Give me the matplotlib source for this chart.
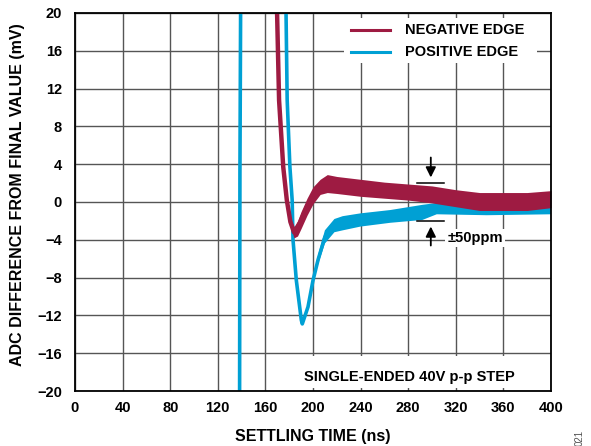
import matplotlib.pyplot as plt
import numpy as np
from matplotlib.patches import Rectangle

plt.rcParams['font.family'] = ['Liberation Sans', 'DejaVu Sans']
plt.rcParams['font.weight'] = 'bold'

# negative edge (maroon): time (ns), lower / upper edge of the noisy trace (mV)
neg_t = [168, 171.5, 175, 178, 181, 184, 187, 190, 195, 200, 206, 212, 220,
         240, 260, 280, 300, 320, 340, 360, 380, 400]
neg_lo = [30, 10.5, 3.4, -0.1, -2.6, -3.8, -3.6, -2.8, -1.4, -0.2, 0.8, 1.0, 0.9,
          0.6, 0.4, 0.2, -0.1, -0.5, -0.9, -0.9, -0.9, -0.6]
neg_hi = [30, 11.0, 4.0, 0.5, -1.6, -2.6, -2.0, -1.0, 0.4, 1.6, 2.4, 2.9, 2.7,
          2.4, 2.1, 1.9, 1.7, 1.3, 1.0, 1.0, 1.0, 1.2]

# positive edge (blue)
pos_t = [138.2, 138.6, 139.5, 176.3, 178.3, 180.6, 182.5, 183.2, 186, 190.2, 191,
         195.8, 200, 204.3, 210, 218, 225, 240, 265, 292, 304, 346, 400]
pos_lo = [-30, 3, 30, 30, 10.8, 3.7, 0.2, -4, -8.3, -12.5, -12.9,
          -11.1, -8.3, -6.6, -4.4, -3.2, -3.0, -2.6, -2.2, -1.9, -1.3, -1.4, -1.3]
pos_hi = [-30, 3, 30, 30, 10.8, 3.7, 0.2, -4, -8.3, -12.5, -12.9,
          -11.1, -8.3, -5.6, -3.0, -1.8, -1.5, -1.2, -0.85, -0.3, -0.1, -0.1, 0.0]

x_ticks = np.arange(0, 401, 40)
y_ticks = np.arange(-20, 21, 4)

RED = '#9E1B42'
BLUE = '#00A0D4'

fig = plt.figure(figsize=(5.91, 4.46), dpi=100)
ax = fig.add_axes([0.1269, 0.1233, 0.8054, 0.8476])

# blue first, maroon on top
for t, lo, hi, c, lw in [(pos_t, pos_lo, pos_hi, BLUE, 2.6), (neg_t, neg_lo, neg_hi, RED, 3.2)]:
    t = np.array(t)
    lo = np.array(lo)
    hi = np.array(hi)
    ax.fill_between(t, lo, hi, color=c, lw=0, zorder=3)
    ax.plot(t, (lo + hi) / 2, color=c, lw=lw, zorder=3, solid_capstyle='butt')

ax.set_xlim(0, 400)
ax.set_ylim(-20, 20)
ax.set_xticks(x_ticks)
ax.set_yticks(y_ticks)
ax.tick_params(length=0, labelsize=10.5)
ax.tick_params(axis='y', pad=9.5)
ax.tick_params(axis='x', pad=7)
for lab in ax.get_xticklabels() + ax.get_yticklabels():
    lab.set_fontweight('bold')
ax.grid(True, color='#555555', lw=1.0, zorder=1)
ax.set_axisbelow(True)
for s in ax.spines.values():
    s.set_linewidth(1.3)
    s.set_zorder(6)

ax.set_xlabel('SETTLING TIME (ns)', fontsize=11.5, fontweight='bold', labelpad=10)
ax.set_ylabel('ADC DIFFERENCE FROM FINAL VALUE (mV)', fontsize=11.5, fontweight='bold', labelpad=2)
ax.yaxis.set_label_coords(-0.105, 0.52)

# legend box
ax.add_patch(Rectangle((226, 14.7), 162, 4.8, facecolor='white', edgecolor='none', zorder=2))
ax.plot([232, 265], [18.2, 18.2], color=RED, lw=2.2, zorder=4)
ax.plot([232, 265], [15.9, 15.9], color=BLUE, lw=2.2, zorder=4)
ax.text(277, 18.2, 'NEGATIVE EDGE', fontsize=10.5, fontweight='bold', va='center', zorder=5)
ax.text(277, 15.9, 'POSITIVE EDGE', fontsize=10.5, fontweight='bold', va='center', zorder=5)

# +/-50ppm marker
ax.plot([287.5, 310], [2, 2], color='black', lw=1.1, zorder=5)
ax.plot([287.5, 310], [-2, -2], color='black', lw=1.1, zorder=5)
ax.annotate('', xy=(299, 2.3), xytext=(299, 5.0),
            arrowprops=dict(arrowstyle='-|>', color='black', lw=1.3, mutation_scale=15), zorder=5)
ax.annotate('', xy=(299, -2.3), xytext=(299, -4.9),
            arrowprops=dict(arrowstyle='-|>', color='black', lw=1.3, mutation_scale=15), zorder=5)
ax.text(313, -3.8, '±50ppm', fontsize=10.5, fontweight='bold', va='center', zorder=5,
        bbox=dict(facecolor='white', edgecolor='none', pad=1.5))

# step note
ax.add_patch(Rectangle((163, -19.7), 236, 3.4, facecolor='white', edgecolor='none', zorder=2))
ax.text(281, -18.5, 'SINGLE-ENDED 40V p-p STEP', fontsize=10.5, fontweight='bold',
        ha='center', va='center', zorder=5)

fig.text(0.972, 0.005, '021', rotation=90, fontsize=7, color='#555555', fontweight='normal')

fig.savefig('out.png', dpi=100)
